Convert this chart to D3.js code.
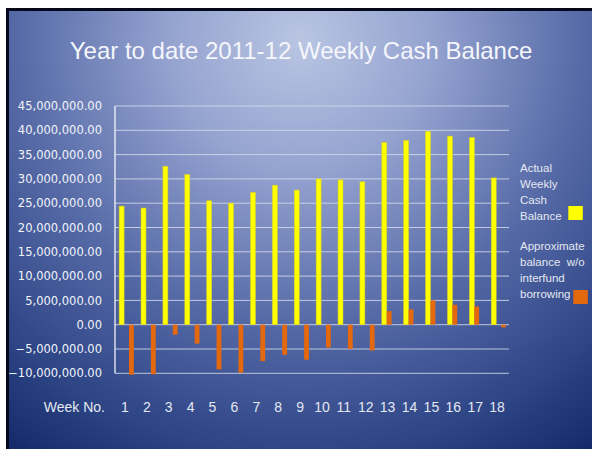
<!DOCTYPE html>
<html>
<head>
<meta charset="utf-8">
<script src="https://cdn.jsdelivr.net/npm/d3@7"></script>
<style>
  html, body { margin: 0; padding: 0; background: #fff; }
  svg { display: block; }
</style>
</head>
<body>
<script>
// data
const weeks = [1, 2, 3, 4, 5, 6, 7, 8, 9, 10, 11, 12, 13, 14, 15, 16, 17, 18];
const actualBalance = [24.4, 24.0, 32.6, 30.9, 25.5, 25.0, 27.2, 28.7, 27.7, 30.0,
  29.8, 29.4, 37.5, 37.9, 39.8, 38.8, 38.5, 30.2].map(v => v * 1e6);
const withoutInterfund = [-10.3, -10.2, -2.05, -3.9, -9.2, -9.9, -7.5, -6.2, -7.2, -4.7,
  -5.0, -5.3, 2.8, 3.15, 5.0, 4.1, 3.75, -0.55].map(v => v * 1e6);
const yTicks = [-10, -5, 0, 5, 10, 15, 20, 25, 30, 35, 40, 45].map(v => v * 1e6);
const legendActual = ["Actual", "Weekly", "Cash", "Balance"];
const legendApprox = ["Approximate", "balance  w/o", "interfund", "borrowing"];

const W = 592, H = 449;
const plot = { left: 115, right: 509, top: 106, bottom: 373.3 };

const svg = d3.select("body").append("svg")
  .attr("width", W)
  .attr("height", H);

const defs = svg.append("defs");
const grad = defs.append("radialGradient")
  .attr("id", "bg")
  .attr("gradientUnits", "userSpaceOnUse")
  .attr("cx", 300).attr("cy", 40)
  .attr("r", 520);
grad.append("stop").attr("offset", 0).attr("stop-color", "#b9c5e2");
grad.append("stop").attr("offset", 0.25).attr("stop-color", "#95a3d0");
grad.append("stop").attr("offset", 0.55).attr("stop-color", "#5569a6");
grad.append("stop").attr("offset", 0.8).attr("stop-color", "#2d4485");
grad.append("stop").attr("offset", 1).attr("stop-color", "#0f2462");

// slide frame
svg.append("rect").attr("x", 6).attr("y", 8).attr("width", W).attr("height", H).attr("fill", "#05081a");
svg.append("rect").attr("x", 9).attr("y", 11).attr("width", W).attr("height", H).attr("fill", "url(#bg)");

svg.append("text")
  .attr("x", 301)
  .attr("y", 59)
  .attr("text-anchor", "middle")
  .style("font-family", "'Liberation Sans', Arial, sans-serif")
  .style("font-size", "24px")
  .attr("fill", "#f4f6fb")
  .text("Year to date 2011-12 Weekly Cash Balance");

const x = d3.scaleBand()
  .domain(weeks)
  .range([plot.left, plot.right])
  .padding(0);

const y = d3.scaleLinear()
  .domain([-10e6, 45e6])
  .range([plot.bottom, plot.top]);

// gridlines
svg.append("g")
  .selectAll("line")
  .data(yTicks)
  .join("line")
  .attr("x1", plot.left)
  .attr("x2", plot.right)
  .attr("y1", d => y(d))
  .attr("y2", d => y(d))
  .attr("stroke", "#d4dbec")
  .attr("stroke-opacity", 0.85)
  .attr("stroke-width", 1);

// y axis labels
const yAxis = svg.append("g")
  .attr("transform", `translate(${plot.left},0)`)
  .call(d3.axisLeft(y).tickValues(yTicks).tickFormat(d3.format(",.2f")).tickSize(0).tickPadding(13));
yAxis.select(".domain").remove();
yAxis.selectAll("text")
  .style("font-family", "'DejaVu Sans', Verdana, sans-serif")
  .style("font-size", "11.5px")
  .attr("fill", "#f2f4fa");

svg.append("line")
  .attr("x1", plot.left).attr("x2", plot.left)
  .attr("y1", plot.top).attr("y2", plot.bottom)
  .attr("stroke", "#ffffff")
  .attr("stroke-width", 1.2);

// bars
const bw = x.bandwidth();
svg.append("g")
  .selectAll("rect")
  .data(weeks)
  .join("rect")
  .attr("x", (d, i) => x(d) + bw * 0.19)
  .attr("width", bw * 0.225)
  .attr("y", (d, i) => y(Math.max(0, actualBalance[i])))
  .attr("height", (d, i) => Math.abs(y(actualBalance[i]) - y(0)))
  .attr("fill", "#ffff00")
  .attr("stroke", "#d6cf2a")
  .attr("stroke-width", 0.6);

svg.append("g")
  .selectAll("rect")
  .data(weeks)
  .join("rect")
  .attr("x", (d, i) => x(d) + bw * (withoutInterfund[i] < 0 ? 0.64 : 0.415))
  .attr("width", bw * 0.22)
  .attr("y", (d, i) => y(Math.max(0, withoutInterfund[i])))
  .attr("height", (d, i) => Math.abs(y(withoutInterfund[i]) - y(0)))
  .attr("fill", "#e3680e");

// x labels
svg.append("g")
  .selectAll("text")
  .data(weeks)
  .join("text")
  .attr("x", d => x(d) + bw / 2 - 1)
  .attr("y", 412)
  .attr("text-anchor", "middle")
  .style("font-family", "'Liberation Sans', Arial, sans-serif")
  .style("font-size", "14px")
  .attr("fill", "#e4e8f2")
  .text(d => d);

svg.append("text")
  .attr("x", 105)
  .attr("y", 412)
  .attr("text-anchor", "end")
  .style("font-family", "'Liberation Sans', Arial, sans-serif")
  .style("font-size", "14px")
  .attr("fill", "#e4e8f2")
  .text("Week No.");

// legend
function legendBlock(lines, top, color, sx, sy) {
  svg.append("g")
    .selectAll("text")
    .data(lines)
    .join("text")
    .attr("x", 520)
    .attr("y", (d, i) => top + i * 16)
    .style("font-family", "'Liberation Sans', Arial, sans-serif")
    .style("font-size", "11.5px")
    .style("white-space", "pre")
    .attr("fill", "#e4e8f2")
    .text(d => d);
  svg.append("rect")
    .attr("x", sx).attr("y", sy)
    .attr("width", 14.5).attr("height", 14)
    .attr("fill", color);
}
legendBlock(legendActual, 171.5, "#ffff00", 568.3, 206);
legendBlock(legendApprox, 250, "#e3680e", 573.3, 290);
</script>
</body>
</html>
